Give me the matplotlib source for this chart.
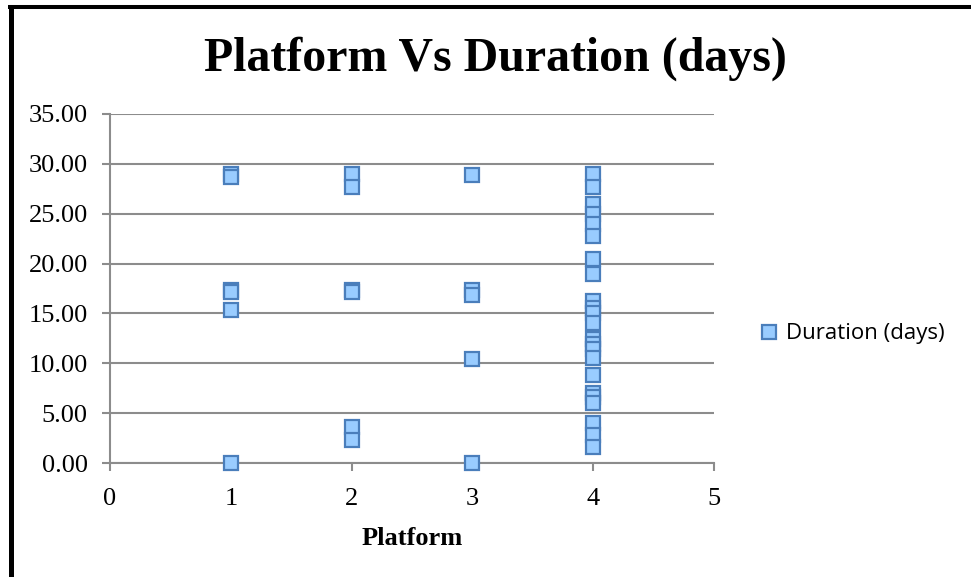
import matplotlib
matplotlib.use("Agg")
import matplotlib.pyplot as plt
from matplotlib.lines import Line2D

# Data
platform = [1, 1, 1, 1, 1, 1,
            2, 2, 2, 2, 2, 2,
            3, 3, 3, 3, 3,
            4, 4, 4, 4, 4, 4, 4, 4, 4, 4, 4, 4, 4, 4, 4, 4, 4, 4, 4, 4, 4, 4, 4]
duration = [28.95, 28.7, 17.35, 17.1, 15.35, 0.0,
            28.95, 27.7, 17.35, 17.1, 3.6, 2.3,
            28.9, 17.35, 16.8, 10.45, 0.0,
            29.0, 27.65, 26.0, 25.0, 24.0, 22.8, 20.5, 18.95, 16.2, 15.5, 15.0, 14.0,
            12.4, 11.9, 11.4, 10.5, 8.8, 7.05, 6.6, 6.0, 4.0, 2.8, 1.6]
series_name = "Duration (days)"
title = "Platform Vs Duration (days)"
xlabel = "Platform"
yticks = [0, 5, 10, 15, 20, 25, 30, 35]
xticks = [0, 1, 2, 3, 4, 5]

W, H = 971, 577
fig = plt.figure(figsize=(W / 100, H / 100), dpi=100)
fig.patch.set_facecolor("white")

ax = fig.add_axes([110 / W, 1 - 463 / H, (714 - 110) / W, (463 - 114) / H])
grey = "#8c8c8c"
ax.set_xlim(0, 5)
ax.set_ylim(0, 35)
ax.set_yticks(yticks)
ax.set_yticklabels([f"{v:.2f}" for v in yticks])
ax.set_xticks(xticks)
ax.set_xticklabels([str(v) for v in xticks])
ax.yaxis.grid(True, color=grey, linewidth=1.5)
ax.set_axisbelow(True)
for s in ["top", "right"]:
    ax.spines[s].set_visible(False)
for s in ["left", "bottom"]:
    ax.spines[s].set_color(grey)
    ax.spines[s].set_linewidth(1.5)
ax.tick_params(axis="both", color=grey, width=1.5, length=6, direction="out",
               labelsize=19)
for lab in ax.get_xticklabels() + ax.get_yticklabels():
    lab.set_fontfamily("Liberation Serif")
ax.tick_params(axis="y", pad=10)
ax.tick_params(axis="x", pad=12)

ax.plot(platform, duration, linestyle="none", marker="s", markersize=9.5,
        markerfacecolor="#99ccff", markeredgecolor="#4a7ebb", markeredgewidth=1.6,
        label=series_name, clip_on=False, zorder=3)

ax.set_xlabel(xlabel, fontfamily="Liberation Serif", fontweight="bold", fontsize=19, labelpad=12)

fig.text(495 / W, 1 - 59 / H, title, ha="center", va="center",
         fontfamily="Liberation Serif", fontweight="bold", fontsize=34.5)

leg = fig.legend(loc="center left", bbox_to_anchor=(760 / W, 1 - 334 / H), frameon=False,
                 prop={"family": "Open Sans", "size": 16}, handlelength=0.8,
                 handletextpad=0.35, borderpad=0, borderaxespad=0)

# Chart frame lines (left and top)
fig.add_artist(Line2D([10.5 / W, 10.5 / W], [0, 1 - 5 / H], transform=fig.transFigure,
                      color="black", linewidth=3.6, solid_capstyle="butt"))
fig.add_artist(Line2D([8 / W, 1], [1 - 7 / H, 1 - 7 / H], transform=fig.transFigure,
                      color="black", linewidth=2.9, solid_capstyle="butt"))

fig.savefig("out.png", dpi=100, facecolor="white")
